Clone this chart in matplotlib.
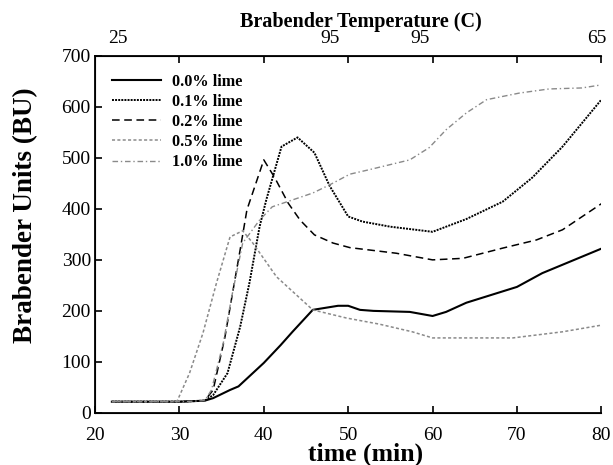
import numpy as np
import matplotlib.pyplot as plt
import matplotlib

matplotlib.rcParams['font.family'] = ['Liberation Serif', 'DejaVu Serif']

# 读图得到的数据 (time in min, Brabender units)
t_00 = [22, 30, 33, 34, 36, 37, 40, 42, 43.4, 45.8, 48.8, 50, 51.4, 53, 57.3, 60, 61.6, 64, 70, 73, 80]
bu_00 = [22, 22, 24, 29, 45, 52, 98, 133, 159, 202, 210, 210, 202, 200, 198, 190, 198, 216, 247, 274, 322]

t_01 = [22, 30, 33, 34, 35.7, 37.2, 38.3, 39.5, 40.3, 42.1, 44, 46, 47.8, 50, 51.7, 55, 60, 64, 68.3, 71.8, 75.4, 80]
bu_01 = [22, 22, 24, 35, 78, 169, 255, 365, 418, 522, 540, 510, 445, 385, 375, 365, 355, 380, 414, 461, 522, 614]

t_02 = [22, 30, 33, 34, 35.4, 36.3, 37.2, 38, 40, 41.3, 42.9, 44.3, 46, 48.2, 50.2, 55.7, 60, 63.6, 68.3, 72.3, 75.4, 80]
bu_02 = [22, 22, 24, 45, 149, 235, 320, 398, 496, 461, 411, 378, 349, 333, 324, 313, 300, 303, 323, 339, 359, 410]

t_05 = [22, 29.7, 31.2, 32.8, 34.4, 36, 37.5, 38.7, 41.5, 45.8, 49.8, 53.7, 57.6, 60, 69.5, 75.4, 80]
bu_05 = [22, 22, 78, 157, 255, 345, 357, 333, 267, 202, 186, 174, 159, 147, 147, 159, 172]

t_10 = [22, 30, 33, 33.8, 35.2, 36.2, 37.5, 39.5, 41, 45.8, 47.8, 50.2, 52.3, 57.3, 59.6, 61.6, 64, 66.4, 70.3, 73.8, 77.7, 80]
bu_10 = [22, 22, 24, 45, 137, 228, 333, 378, 404, 431, 447, 468, 476, 496, 520, 555, 588, 614, 627, 635, 637, 643]

labels = ['0.0% lime', '0.1% lime', '0.2% lime', '0.5% lime', '1.0% lime']
temp_pos = [22.7, 47.8, 58.5, 79.5]
temp_labels = ['25', '95', '95', '65']

fig = plt.figure(figsize=(6.13, 4.65), dpi=100)
ax = fig.add_axes([0.155, 0.112, 0.826, 0.768])

ax.plot(t_00, bu_00, color='black', lw=1.5, label=labels[0])
ax.plot(t_01, bu_01, color='black', lw=1.4, ls=(0, (1, 0.6)), label=labels[1])
ax.plot(t_02, bu_02, color='black', lw=1.1, ls=(0, (5, 3)), label=labels[2])
ax.plot(t_05, bu_05, color='#8a8a8a', lw=1.1, ls=(0, (2, 1.5)), label=labels[3])
ax.plot(t_10, bu_10, color='#8a8a8a', lw=1.0, ls=(0, (4, 2, 1, 2)), label=labels[4])

ax.set_xlim(20, 80)
ax.set_ylim(0, 700)
ax.set_xticks(range(20, 81, 10))
ax.set_yticks(range(0, 701, 100))
ax.tick_params(direction='in', labelsize=14, length=5, width=1.2)
ax.tick_params(axis='x', pad=10)
ax.tick_params(axis='y', pad=3)
ax.spines['right'].set_visible(False)
for s in ['left', 'bottom', 'top']:
    ax.spines[s].set_linewidth(1.3)
ax.set_xlabel('time (min)', fontsize=18.5, fontweight='bold')
ax.xaxis.set_label_coords(0.534, -0.083)
ax.set_ylabel('Brabender Units (BU)', fontsize=19.5, fontweight='bold')
ax.yaxis.set_label_coords(-0.113, 0.555)

# 上方温度坐标轴
ax2 = ax.twiny()
ax2.set_xlim(ax.get_xlim())
ax2.set_xticks(temp_pos, temp_labels)
ax2.set_xticks(range(30, 81, 10), minor=True)
ax2.tick_params(which='major', length=0, labelsize=14, pad=6)
ax2.tick_params(which='minor', direction='in', length=5, width=1.2)
ax2.spines['right'].set_visible(False)
ax2.set_xlabel('Brabender Temperature (C)', fontsize=14.5, fontweight='bold')
ax2.xaxis.set_label_coords(0.526, 1.08)

leg = ax.legend(loc='upper left', frameon=False, handlelength=3.0, handletextpad=0.7,
                labelspacing=0.25, prop={'weight': 'bold', 'size': 11.7},
                bbox_to_anchor=(0.005, 0.99))

plt.savefig('out.png', dpi=100)
